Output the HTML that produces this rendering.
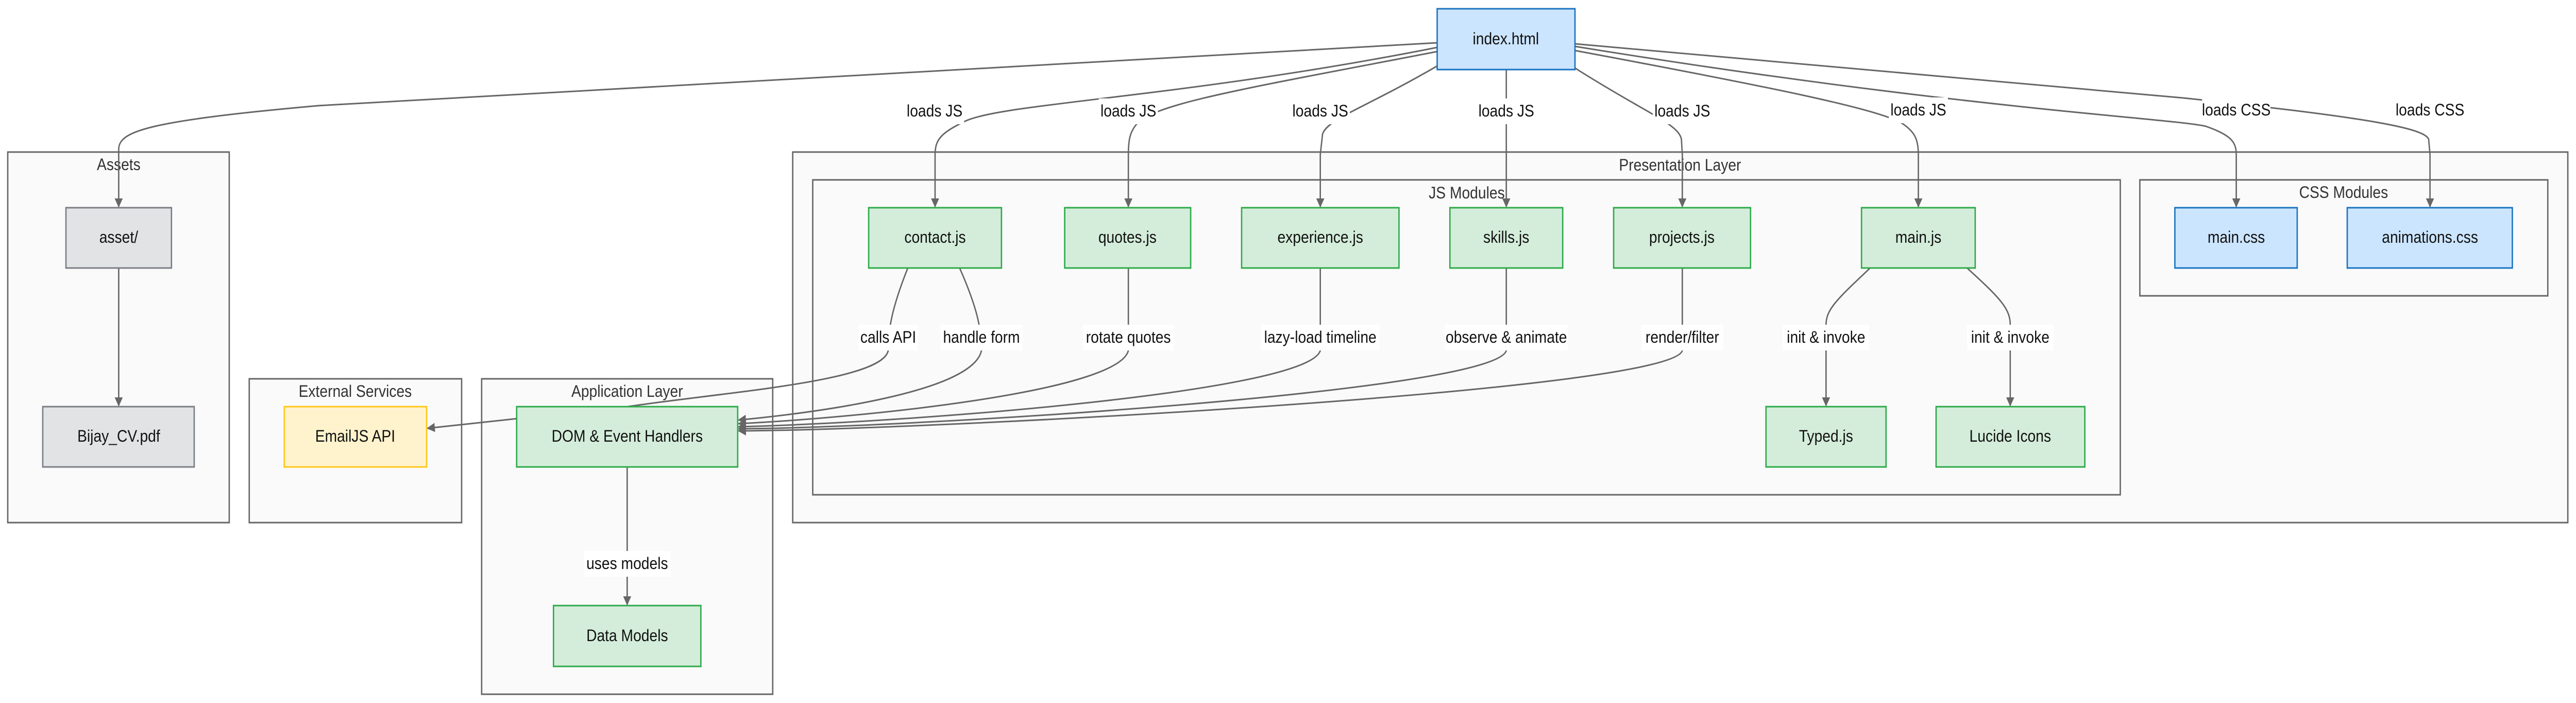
<!DOCTYPE html>
<html><head><meta charset="utf-8"><style>
html,body{margin:0;padding:0;background:#fff;width:100%;height:100%;overflow:hidden;}
svg{display:block;width:100vw;height:100vh;}
text{font-family:"Liberation Sans",sans-serif;font-size:32px;text-anchor:middle;dominant-baseline:central;fill:#111;}
.t{fill:#333;}
.g{fill:#d4edda;stroke:#2eaa4a;stroke-width:3;}
.b{fill:#cce5ff;stroke:#1b74c2;stroke-width:3;}
.gr{fill:#e2e3e5;stroke:#7a7e84;stroke-width:3;}
.y{fill:#fff3cd;stroke:#ffc71a;stroke-width:3;}
.lb{fill:#fff;}
</style></head><body>
<svg viewBox="0 0 5664 1364" preserveAspectRatio="none" xmlns="http://www.w3.org/2000/svg">
<defs><marker id="a" viewBox="0 0 10 10" refX="9" refY="5" markerWidth="6" markerHeight="6" orient="auto"><path d="M0,0L10,5L0,10z" fill="#666"/></marker></defs>
<g stroke="#666" stroke-width="3" fill="#fafafa">
<rect x="17" y="295" width="487" height="719"/>
<rect x="548" y="735" width="467" height="279"/>
<rect x="1059" y="735" width="640" height="612"/>
<rect x="1743" y="295" width="3903" height="719"/>
<rect x="1787" y="349" width="2875" height="611"/>
<rect x="4705" y="349" width="897" height="225"/>
</g>
<text class="t" x="261" y="320">Assets</text>
<text class="t" x="781" y="760">External Services</text>
<text class="t" x="1379" y="760">Application Layer</text>
<text class="t" x="3694" y="321">Presentation Layer</text>
<text class="t" x="3225" y="375">JS Modules</text>
<text class="t" x="5153" y="374">CSS Modules</text>
<g stroke="#666" stroke-width="3" fill="none" marker-end="url(#a)">
<path d="M3160,83 L700,205 C320,235 261,255 261,290 L261,401"/>
<path d="M3160,92 C2600,190 2200,200 2120,236 C2070,258 2056,270 2056,300 L2056,401"/>
<path d="M3160,100 C2750,170 2540,200 2500,240 C2485,255 2481,270 2481,300 L2481,401"/>
<path d="M3160,128 C3000,210 2920,230 2908,260 L2903,300 L2903,401"/>
<path d="M3312,135 L3312,401"/>
<path d="M3463,132 C3620,220 3690,240 3697,270 L3699,300 L3699,401"/>
<path d="M3463,98 C3900,170 4120,210 4180,238 C4210,255 4218,270 4218,300 L4218,401"/>
<path d="M3463,90 C4300,210 4780,230 4850,245 C4905,262 4917,275 4917,300 L4917,401"/>
<path d="M3463,85 L4800,190 C5230,230 5330,250 5340,270 L5343,300 L5343,401"/>
<path d="M261,520 L261,787"/>
<path d="M1379,906 L1379,1173"/>
<path d="M1996,520 C1960,600 1953,640 1953,680 C1940,740 1600,760 1379,789 L940,831"/>
<path d="M2110,520 C2150,600 2158,640 2158,680 C2140,760 1800,800 1624,815"/>
<path d="M2481,520 L2481,680 C2460,760 1900,810 1624,822"/>
<path d="M2903,520 L2903,680 C2880,760 2000,820 1624,828"/>
<path d="M3312,520 L3312,680 C3290,760 2000,830 1624,832"/>
<path d="M3699,520 L3699,680 C3680,760 2000,835 1624,836"/>
<path d="M4112,520 C4040,580 4015,600 4015,630 L4015,787"/>
<path d="M4325,520 C4400,580 4420,600 4420,630 L4420,787"/>
</g>
<rect class="b" x="3160" y="17" width="303" height="118"/><text x="3311" y="76">index.html</text>
<rect class="gr" x="145" y="403" width="232" height="117"/><text x="261" y="461">asset/</text>
<rect class="gr" x="94" y="789" width="333" height="117"/><text x="261" y="847">Bijay_CV.pdf</text>
<rect class="y" x="625" y="789" width="313" height="117"/><text x="781" y="847">EmailJS API</text>
<rect class="g" x="1136" y="789" width="486" height="117"/><text x="1379" y="847">DOM &amp; Event Handlers</text>
<rect class="g" x="1217" y="1175" width="324" height="118"/><text x="1379" y="1234">Data Models</text>
<rect class="g" x="1910" y="403" width="292" height="117"/><text x="2056" y="461">contact.js</text>
<rect class="g" x="2341" y="403" width="277" height="117"/><text x="2479" y="461">quotes.js</text>
<rect class="g" x="2730" y="403" width="346" height="117"/><text x="2903" y="461">experience.js</text>
<rect class="g" x="3188" y="403" width="248" height="117"/><text x="3312" y="461">skills.js</text>
<rect class="g" x="3548" y="403" width="301" height="117"/><text x="3698" y="461">projects.js</text>
<rect class="g" x="4093" y="403" width="250" height="117"/><text x="4218" y="461">main.js</text>
<rect class="g" x="3883" y="789" width="264" height="117"/><text x="4015" y="847">Typed.js</text>
<rect class="g" x="4257" y="789" width="327" height="117"/><text x="4420" y="847">Lucide Icons</text>
<rect class="b" x="4782" y="403" width="269" height="117"/><text x="4917" y="461">main.css</text>
<rect class="b" x="5161" y="403" width="363" height="117"/><text x="5343" y="461">animations.css</text>
<g>
<rect class="lb" x="1990" y="191" width="130" height="50"/><text x="2055" y="216">loads JS</text>
<rect class="lb" x="2416" y="191" width="130" height="50"/><text x="2481" y="216">loads JS</text>
<rect class="lb" x="2838" y="191" width="130" height="50"/><text x="2903" y="216">loads JS</text>
<rect class="lb" x="3247" y="191" width="130" height="50"/><text x="3312" y="216">loads JS</text>
<rect class="lb" x="3634" y="191" width="130" height="50"/><text x="3699" y="216">loads JS</text>
<rect class="lb" x="4153" y="189" width="130" height="50"/><text x="4218" y="214">loads JS</text>
<rect class="lb" x="4842" y="189" width="150" height="50"/><text x="4917" y="214">loads CSS</text>
<rect class="lb" x="5268" y="189" width="150" height="50"/><text x="5343" y="214">loads CSS</text>
<rect class="lb" x="1888" y="630" width="130" height="50"/><text x="1953" y="655">calls API</text>
<rect class="lb" x="2068" y="630" width="180" height="50"/><text x="2158" y="655">handle form</text>
<rect class="lb" x="2381" y="630" width="200" height="50"/><text x="2481" y="655">rotate quotes</text>
<rect class="lb" x="2773" y="630" width="260" height="50"/><text x="2903" y="655">lazy-load timeline</text>
<rect class="lb" x="3177" y="630" width="270" height="50"/><text x="3312" y="655">observe &amp; animate</text>
<rect class="lb" x="3609" y="630" width="180" height="50"/><text x="3699" y="655">render/filter</text>
<rect class="lb" x="3920" y="630" width="190" height="50"/><text x="4015" y="655">init &amp; invoke</text>
<rect class="lb" x="4325" y="630" width="190" height="50"/><text x="4420" y="655">init &amp; invoke</text>
<rect class="lb" x="1284" y="1069" width="190" height="50"/><text x="1379" y="1094">uses models</text>
</g>
</svg>
</body></html>
